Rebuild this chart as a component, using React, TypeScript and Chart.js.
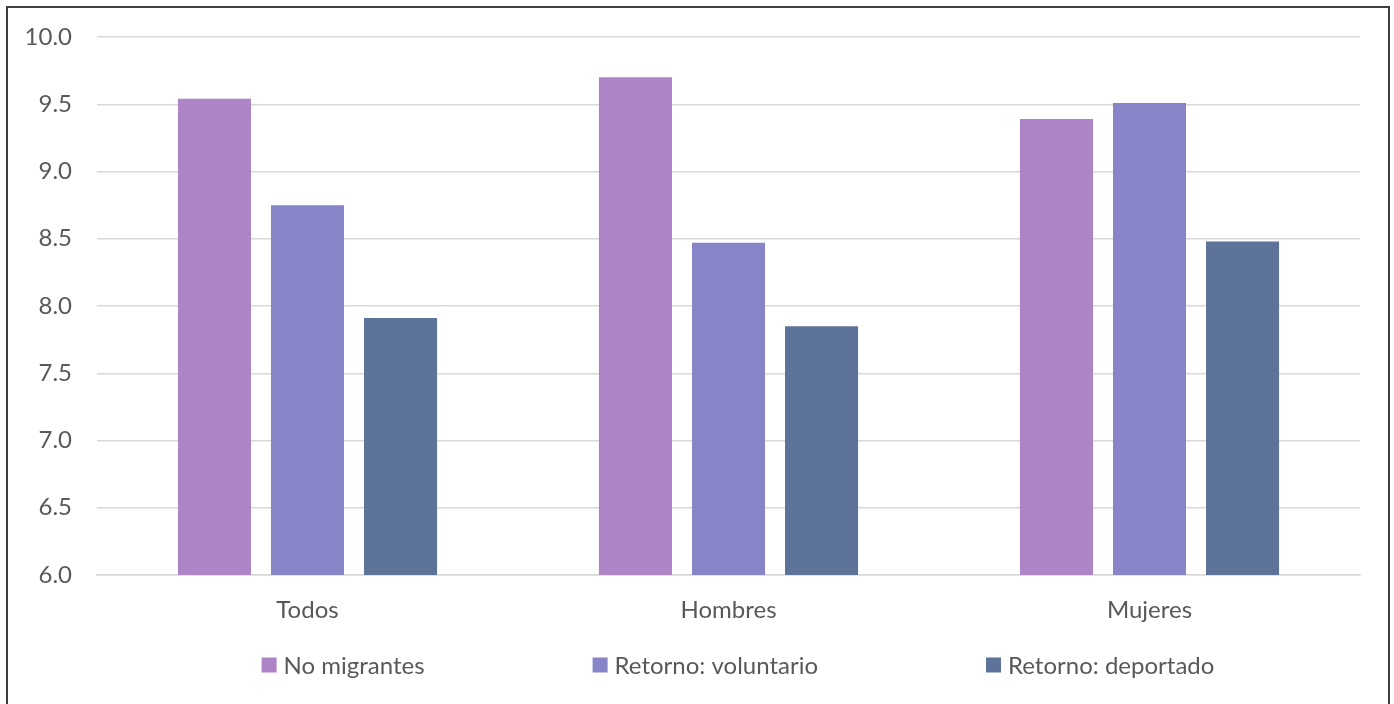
import React, { useEffect, useRef } from "react";
import { Chart, registerables } from "chart.js";

Chart.register(...registerables);

// Categories and series
const categories = ["Todos", "Hombres", "Mujeres"];
const seriesNames = ["No migrantes", "Retorno: voluntario", "Retorno: deportado"];
const noMigrantes = [9.54, 9.7, 9.39];
const retornoVoluntario = [8.75, 8.47, 9.51];
const retornoDeportado = [7.91, 7.85, 8.48];
const seriesColors = ["#AD84C6", "#8784C7", "#5E7399"];
const yTicks = [6.0, 6.5, 7.0, 7.5, 8.0, 8.5, 9.0, 9.5, 10.0];

const FONT = "Lato, 'Liberation Sans', sans-serif";
const FONT_SIZE = 24;
const TEXT = "#595959";

// Bottom legend drawn with wide, even spacing between entries
const spacedLegend = {
  id: "spacedLegend",
  afterDraw(chart: any) {
    const ctx = chart.ctx;
    const datasets = chart.data.datasets;
    const box = 15;
    const boxGap = 7;
    const itemGap = 168;
    ctx.save();
    ctx.font = `${FONT_SIZE}px ${FONT}`;
    const widths = datasets.map((d: any) => box + boxGap + ctx.measureText(d.label).width);
    const total = widths.reduce((a: number, b: number) => a + b, 0) + itemGap * (datasets.length - 1);
    const centerX = 730;
    const y = 657;
    let x = centerX - total / 2;
    ctx.textBaseline = "middle";
    ctx.textAlign = "left";
    datasets.forEach((d: any, i: number) => {
      ctx.fillStyle = d.backgroundColor;
      ctx.fillRect(x, y - box / 2, box, box);
      ctx.fillStyle = TEXT;
      ctx.fillText(d.label, x + box + boxGap, y + 1);
      x += widths[i] + itemGap;
    });
    ctx.restore();
  },
};

export default function App() {
  const canvasRef = useRef<HTMLCanvasElement | null>(null);

  useEffect(() => {
    if (!canvasRef.current) return;
    const values = [noMigrantes, retornoVoluntario, retornoDeportado];
    const chart = new Chart(canvasRef.current, {
      type: "bar",
      data: {
        labels: categories,
        datasets: seriesNames.map((name, i) => ({
          label: name,
          data: values[i],
          backgroundColor: seriesColors[i],
          borderWidth: 0,
          categoryPercentage: 0.663,
          barPercentage: 0.785,
        })),
      },
      plugins: [spacedLegend],
      options: {
        animation: false,
        responsive: false,
        maintainAspectRatio: false,
        layout: { padding: { left: 0, right: 28, top: 29, bottom: 67 } },
        scales: {
          x: {
            grid: { display: false, drawTicks: false },
            border: { display: true, color: "#d9d9d9", width: 1.5 },
            ticks: { color: TEXT, font: { family: FONT, size: FONT_SIZE }, padding: 21 },
            afterFit: (axis: any) => {
              axis.height = 62;
            },
          },
          y: {
            min: 6,
            max: 10,
            afterBuildTicks: (axis: any) => {
              axis.ticks = yTicks.map((v) => ({ value: v }));
            },
            grid: {
              color: "#d9d9d9",
              lineWidth: 1.5,
              drawTicks: true,
              tickLength: 25,
              tickColor: "rgba(0,0,0,0)",
            },
            border: { display: false },
            ticks: {
              color: TEXT,
              font: { family: FONT, size: FONT_SIZE },
              padding: 0,
              callback: (v: any) => Number(v).toFixed(1),
            },
            afterFit: (axis: any) => {
              axis.width = 89;
            },
          },
        },
        plugins: {
          tooltip: { enabled: false },
          legend: { display: false },
        },
      },
    });
    return () => chart.destroy();
  }, []);

  return (
    <div
      style={{
        position: "absolute",
        left: 6,
        top: 6,
        width: 1384,
        height: 720,
        border: "2px solid #3f3f3f",
        boxSizing: "border-box",
        background: "#fff",
      }}
    >
      <canvas
        ref={canvasRef}
        width={1380}
        height={696}
        style={{ position: "absolute", left: 0, top: 0, width: 1380, height: 696 }}
      />
    </div>
  );
}
